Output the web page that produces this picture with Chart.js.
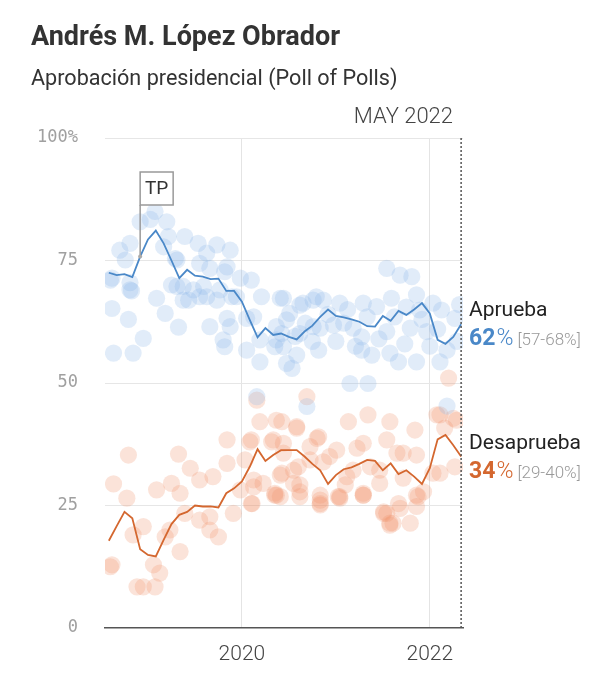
<!DOCTYPE html>
<html>
<head>
<meta charset="utf-8">
<script src="https://cdn.jsdelivr.net/npm/chart.js@4"></script>
<style>
  body { margin: 0; background: #fff; }
  canvas { display: block; }
</style>
</head>
<body>
<canvas id="approvalChart" width="596" height="680"></canvas>
<script>
// monthly poll-of-polls, month 0 = Aug 2018 ... month 45 = May 2022
const approve = [72.5, 72.0, 72.2, 71.6, 75.8, 79.3, 81.1, 78.5, 75.0, 71.4, 73.1, 71.9,
    71.7, 71.2, 71.3, 68.8, 68.8, 66.6, 62.9, 59.3, 61.2, 59.8, 60.1, 59.4,
    58.9, 60.5, 61.7, 63.5, 65.0, 63.7, 63.4, 63.0, 62.5, 61.6, 61.5, 63.7,
    62.7, 64.7, 63.9, 65.0, 66.3, 64.2, 58.8, 58.0, 59.4, 62.0];
const disapprove = [17.8, 20.8, 23.7, 22.4, 16.1, 14.9, 14.6, 18.0, 21.2, 23.1, 23.7, 25.0,
    24.8, 24.8, 24.6, 27.5, 28.5, 29.9, 32.9, 36.5, 34.1, 35.3, 36.3, 36.3,
    36.3, 35.0, 33.5, 32.2, 29.4, 31.2, 32.4, 32.8, 33.5, 34.3, 34.1, 32.2,
    33.6, 31.4, 32.2, 30.9, 29.4, 32.6, 38.5, 39.4, 37.3, 35.0];

// individual polls: [month, value]
const approvePolls = [
    [5.9, 85.0], [7.4, 82.9], [4.0, 82.9], [5.3, 83.4], [9.7, 79.9], [11.4, 78.5], [13.8, 78.2],
    [15.5, 77.1], [2.7, 78.5], [2.1, 75.1], [0.4, 71.4], [2.7, 70.5], [2.9, 68.8], [6.1, 67.3],
    [0.4, 65.2], [2.5, 63.0], [7.2, 64.2], [8.9, 61.4], [4.4, 59.1], [0.6, 56.1], [3.1, 56.1],
    [8.7, 69.7], [10.2, 66.9], [11.6, 67.6], [12.9, 61.5], [15.1, 63.2], [14.8, 57.4], [17.6, 63.2],
    [19.3, 54.3], [19.5, 67.6], [21.9, 67.3], [18.2, 71.0], [16.8, 71.4], [14.8, 72.7], [12.9, 73.4],
    [8.5, 75.4], [7.0, 77.8], [12.1, 69.7], [9.5, 69.7], [16.3, 67.6], [17.6, 56.7], [22.1, 60.1],
    [21.2, 57.4], [13.8, 66.9], [7.6, 79.9], [1.4, 77.1],
    [8.0, 70.0], [9.5, 66.9], [10.8, 69.0], [12.5, 67.6], [14.2, 69.0], [15.7, 67.6], [11.6, 74.4],
    [15.1, 73.7], [12.5, 76.5], [8.7, 75.1], [15.5, 61.5], [18.5, 63.5], [21.4, 61.5], [23.1, 64.2],
    [24.8, 66.3], [26.5, 67.6], [24.4, 60.1], [26.1, 61.5], [19.3, 58.8], [14.6, 58.8], [0.2, 71.0],
    [2.7, 69.0],
    [35.5, 73.4], [37.2, 72.0], [38.7, 71.7], [22.3, 67.3], [24.4, 65.9], [26.1, 66.9], [27.4, 66.9],
    [29.5, 66.3], [32.5, 66.3], [36.1, 67.3], [39.3, 68.0], [41.4, 66.3], [42.5, 64.9], [44.2, 63.2],
    [22.7, 62.9], [25.1, 62.2], [27.0, 61.2], [28.7, 61.8], [31.2, 61.2], [32.3, 59.4], [35.5, 60.5],
    [38.5, 61.2], [40.6, 60.5], [22.3, 57.4], [24.0, 55.7], [26.8, 56.7], [32.3, 56.7], [33.6, 55.7],
    [35.9, 56.1], [37.0, 54.3], [39.3, 54.3], [42.3, 54.3], [43.2, 56.7], [23.4, 53.0], [30.8, 49.9],
    [33.1, 49.9], [43.2, 45.3], [25.3, 45.2], [18.9, 47.2], [30.0, 62.2], [34.2, 65.6], [39.7, 64.9],
    [21.4, 58.8], [22.7, 54.0],
    [28.0, 64.0], [30.5, 65.0], [33.0, 63.5], [36.5, 63.5], [38.0, 65.5], [40.0, 63.0], [29.0, 58.5],
    [31.5, 57.5], [34.5, 59.0], [37.8, 58.0], [41.0, 57.5], [26.0, 58.5], [23.8, 59.5], [42.0, 61.0],
    [44.5, 58.5], [44.8, 66.0]];
const disapprovePolls = [
    [2.5, 35.3], [0.6, 29.4], [2.3, 26.5], [6.1, 28.2], [8.9, 35.5], [10.4, 32.6], [8.0, 29.5],
    [9.1, 27.5], [11.6, 30.2], [13.3, 30.9], [15.1, 33.6], [15.1, 38.4], [15.9, 23.4], [12.9, 20.0],
    [11.6, 22.0], [9.1, 15.6], [7.2, 18.6], [4.4, 20.7], [0.4, 12.9], [5.7, 12.9], [18.2, 25.4],
    [19.3, 42.1], [21.4, 42.4], [21.0, 38.4], [22.1, 31.6], [21.2, 27.5], [18.2, 38.4], [19.7, 29.5],
    [18.5, 30.2], [12.9, 22.7], [14.0, 18.6], [9.7, 23.4], [7.8, 20.0], [3.1, 19.0],
    [0.2, 12.5], [4.4, 8.4], [5.9, 8.4], [6.5, 11.2], [3.6, 8.4], [35.9, 21.4], [38.5, 21.4],
    [35.1, 23.4], [37.2, 24.4], [39.3, 24.8], [27.0, 25.4], [21.4, 27.1], [24.4, 26.8], [29.5, 26.8],
    [32.5, 27.1], [18.9, 46.5],
    [25.3, 47.2], [43.4, 51.0], [22.1, 42.1], [24.0, 40.8], [26.6, 38.7], [30.6, 42.1], [33.1, 43.5],
    [35.9, 42.1], [39.1, 40.4], [41.9, 43.5], [42.9, 40.8], [44.4, 42.4], [22.3, 37.7], [23.6, 32.2],
    [24.4, 29.2], [21.9, 26.8], [27.0, 26.1], [29.3, 26.8], [30.2, 29.2], [32.5, 27.5], [31.7, 36.7],
    [35.5, 38.4], [36.8, 35.7], [39.3, 35.3], [34.6, 32.2], [37.6, 30.6], [40.2, 27.8], [41.4, 31.6],
    [44.2, 32.9], [28.2, 35.0], [25.7, 34.3], [35.1, 23.7], [35.9, 21.0], [37.0, 25.4],
    [39.5, 26.8], [33.4, 32.9], [30.4, 30.9],
    [24.0, 41.1], [18.0, 38.0], [20.8, 38.0], [26.8, 39.0], [42.3, 43.5], [44.0, 42.8], [17.4, 34.3],
    [22.3, 35.7], [25.7, 37.0], [29.1, 36.3], [32.5, 37.7], [37.6, 35.7], [21.9, 31.2], [24.2, 32.9],
    [27.4, 33.9], [31.2, 32.2], [42.3, 31.6], [18.5, 28.8], [21.2, 27.1], [24.4, 27.8], [27.0, 27.1],
    [29.5, 26.5], [32.5, 27.1], [34.6, 29.5], [39.3, 27.1], [18.3, 25.4], [27.0, 25.1], [35.5, 23.4],
    [36.3, 21.4], [16.8, 28.2], [23.6, 29.5]];

const tickMonths = [17, 41];
const tickLabels = ['2020', '2022'];
const yTicks = [0, 25, 50, 75, 100];

const seriesNames = ['Aprueba', 'Desaprueba'];
const latestValues = [62, 34];
const latestRanges = ['[57-68%]', '[29-40%]'];
const tpMonth = 4;

const BLUE = '#4a88c8';
const ORANGE = '#d4672f';

const toPoints = arr => arr.map((v, i) => ({ x: i, y: v }));
const toXY = arr => arr.map(p => ({ x: p[0], y: p[1] }));

const overlay = {
    id: 'overlay',
    afterDatasetsDraw(chart) {
        const ctx = chart.ctx;
        const xs = chart.scales.x, ys = chart.scales.y;
        const area = chart.chartArea;
        ctx.save();
        // latest-month dotted marker
        const xl = xs.getPixelForValue(approve.length - 1);
        ctx.strokeStyle = '#555';
        ctx.lineWidth = 1.5;
        ctx.setLineDash([2, 2]);
        ctx.beginPath();
        ctx.moveTo(xl, area.top);
        ctx.lineTo(xl, area.bottom);
        ctx.stroke();
        ctx.setLineDash([]);

        // TP flag
        const tx = xs.getPixelForValue(tpMonth);
        const ty = ys.getPixelForValue(approve[tpMonth]);
        ctx.strokeStyle = '#999';
        ctx.lineWidth = 1.5;
        ctx.beginPath();
        ctx.moveTo(tx, ty);
        ctx.lineTo(tx, 205);
        ctx.stroke();
        ctx.fillStyle = '#aaa';
        ctx.beginPath();
        ctx.arc(tx, ty, 2, 0, Math.PI * 2);
        ctx.fill();
        ctx.fillStyle = '#fff';
        ctx.fillRect(tx, 172, 33, 33);
        ctx.strokeRect(tx, 172, 33, 33);
        ctx.fillStyle = '#333';
        ctx.font = '19px Roboto';
        ctx.textAlign = 'center';
        ctx.textBaseline = 'middle';
        ctx.fillText('TP', tx + 16.5, 189.5);
        ctx.restore();
    },
    afterDraw(chart) {
        const ctx = chart.ctx;
        const ys = chart.scales.y;
        ctx.save();
        ctx.textBaseline = 'alphabetic';
        ctx.textAlign = 'left';
        ctx.fillStyle = '#333';
        ctx.font = 'bold 27px Roboto';
        ctx.fillText('Andrés M. López Obrador', 31, 45);
        ctx.font = '21.6px Roboto';
        ctx.fillText('Aprobación presidencial (Poll of Polls)', 31, 85);
        ctx.textAlign = 'right';
        ctx.fillStyle = '#444';
        ctx.font = '300 22px Roboto';
        ctx.fillText('MAY 2022', 453, 123);

        // right-hand labels
        const ends = [approve[approve.length - 1], disapprove[disapprove.length - 1]];
        const colors = [BLUE, ORANGE];
        ctx.textAlign = 'left';
        ends.forEach((v, i) => {
            const y = ys.getPixelForValue(v);
            let x = 469;
            ctx.fillStyle = '#222';
            ctx.font = '21px Roboto';
            ctx.fillText(seriesNames[i], x, y - 8);
            ctx.fillStyle = colors[i];
            ctx.font = 'bold 23px Roboto';
            const num = String(latestValues[i]);
            ctx.fillText(num, x, y + 21);
            x += ctx.measureText(num).width + 1;
            ctx.font = '300 23px Roboto';
            ctx.fillText('%', x, y + 21);
            x += ctx.measureText('%').width + 4;
            ctx.fillStyle = '#999';
            ctx.font = '300 17px Roboto';
            ctx.fillText(latestRanges[i], x, y + 21);
        });
        ctx.restore();
    }
};

new Chart(document.getElementById('approvalChart'), {
    type: 'line',
    data: {
        datasets: [
            {
                label: 'Aprueba',
                data: toPoints(approve),
                borderColor: BLUE,
                borderWidth: 1.8,
                pointRadius: 0,
                tension: 0,
                order: 0
            },
            {
                label: 'Desaprueba',
                data: toPoints(disapprove),
                borderColor: ORANGE,
                borderWidth: 1.8,
                pointRadius: 0,
                tension: 0,
                order: 0
            },
            {
                type: 'scatter',
                label: 'Aprueba encuestas',
                data: toXY(approvePolls),
                backgroundColor: 'rgba(140,182,230,0.26)',
                borderWidth: 0,
                pointRadius: 8.6,
                pointHoverRadius: 8.6,
                order: 1
            },
            {
                type: 'scatter',
                label: 'Desaprueba encuestas',
                data: toXY(disapprovePolls),
                backgroundColor: 'rgba(238,145,108,0.26)',
                borderWidth: 0,
                pointRadius: 8.6,
                pointHoverRadius: 8.6,
                order: 1
            }
        ]
    },
    options: {
        responsive: false,
        animation: false,
        layout: { padding: { top: 138, right: 133, bottom: 0, left: 0 } },
        plugins: {
            legend: { display: false },
            tooltip: { enabled: false },
            title: { display: false }
        },
        scales: {
            x: {
                type: 'linear',
                min: -0.49,
                max: 45.24,
                afterFit(scale) { scale.height = 52; },
                afterBuildTicks(scale) { scale.ticks = tickMonths.map(v => ({ value: v })); },
                grid: { color: '#e4e4e4', drawTicks: false },
                border: { display: true, color: '#555', width: 1.5 },
                ticks: {
                    autoSkip: false,
                    maxRotation: 0,
                    padding: 14,
                    color: '#444',
                    font: { family: 'Roboto', size: 21, weight: '300' },
                    callback: (v, i) => tickLabels[i]
                }
            },
            y: {
                min: 0,
                max: 100,
                afterFit(scale) { scale.width = 105; },
                afterBuildTicks(scale) { scale.ticks = yTicks.map(v => ({ value: v })); },
                grid: {
                    color: c => (c.tick && c.tick.value === 0) ? 'rgba(0,0,0,0)' : '#e6e6e6',
                    drawTicks: false
                },
                border: { display: false },
                ticks: {
                    padding: 27,
                    color: '#a0a0a0',
                    font: { family: 'DejaVu Sans Mono', size: 17 },
                    callback: v => v === 100 ? '100%' : String(v)
                }
            }
        }
    },
    plugins: [overlay]
});
</script>
</body>
</html>
